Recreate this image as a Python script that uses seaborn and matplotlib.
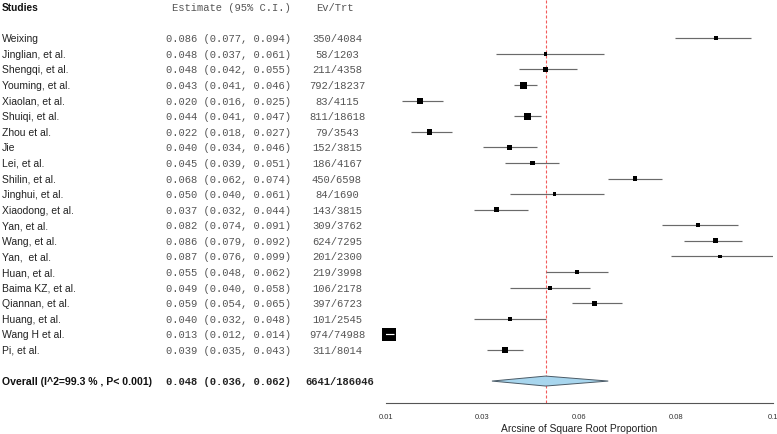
import numpy as np
import pandas as pd
import matplotlib
matplotlib.use("Agg")
import matplotlib.pyplot as plt
import matplotlib.transforms as mtransforms
import seaborn as sns

# ---------------- data ----------------
studies = ["Weixing", "Jinglian, et al.", "Shengqi, et al.", "Youming, et al.",
           "Xiaolan, et al.", "Shuiqi, et al.", "Zhou et al.", "Jie", "Lei, et al.",
           "Shilin, et al.", "Jinghui, et al.", "Xiaodong, et al.", "Yan, et al.",
           "Wang, et al.", "Yan,  et al.", "Huan, et al.", "Baima KZ, et al.",
           "Qiannan, et al.", "Huang, et al.", "Wang H et al.", "Pi, et al."]
estimate = [0.086, 0.048, 0.048, 0.043, 0.020, 0.044, 0.022, 0.040, 0.045, 0.068, 0.050,
            0.037, 0.082, 0.086, 0.087, 0.055, 0.049, 0.059, 0.040, 0.013, 0.039]
ci_lower = [0.077, 0.037, 0.042, 0.041, 0.016, 0.041, 0.018, 0.034, 0.039, 0.062, 0.040,
            0.032, 0.074, 0.079, 0.076, 0.048, 0.040, 0.054, 0.032, 0.012, 0.035]
ci_upper = [0.094, 0.061, 0.055, 0.046, 0.025, 0.047, 0.027, 0.046, 0.051, 0.074, 0.061,
            0.044, 0.091, 0.092, 0.099, 0.062, 0.058, 0.065, 0.048, 0.014, 0.043]
events = [350, 58, 211, 792, 83, 811, 79, 152, 186, 450, 84, 143, 309, 624, 201, 219,
          106, 397, 101, 974, 311]
totals = [4084, 1203, 4358, 18237, 4115, 18618, 3543, 3815, 4167, 6598, 1690, 3815,
          3762, 7295, 2300, 3998, 2178, 6723, 2545, 74988, 8014]

overall_label = "Overall (I^2=99.3 % , P< 0.001)"
overall_est = 0.048
overall_lo = 0.036
overall_hi = 0.062
overall_events = 6641
overall_total = 186046

tick_labels = ["0.01", "0.03", "0.06", "0.08", "0.1"]
x_range = (0.01225, 0.09877)
x_title = "Arcsine of Square Root Proportion"

# ---------------- layout ----------------
W, H = 777, 435
sns.set_style("white")
plt.rcParams["font.family"] = ["Liberation Sans", "DejaVu Sans"]
MONO = ["Liberation Mono", "DejaVu Sans Mono"]

fig = plt.figure(figsize=(W / 100, H / 100), dpi=100)
ax_left, ax_right, ax_top, ax_bottom = 385.7, 772.7, 0.0, 404.3
ax = fig.add_axes([ax_left / W, (H - ax_bottom) / H,
                   (ax_right - ax_left) / W, (ax_bottom - ax_top) / H])
ax.patch.set_alpha(0)

row0_px, row_step = 39.3, 15.58
n = len(studies)
overall_row = n + 1
header_row = -2
ax.set_ylim((ax_bottom - row0_px) / row_step, (ax_top - row0_px) / row_step)
ax.set_xlim(*x_range)

df = pd.DataFrame({"study": studies, "est": estimate, "lo": ci_lower, "hi": ci_upper,
                   "ev": events, "n": totals})
df["row"] = np.arange(n)
# inverse-variance weight on the proportion scale; box area ~ sqrt(weight)
df["w"] = df["n"] / (df["est"] * (1 - df["est"]))
max_side_px = 13.3
df["side_px"] = max_side_px * (df["w"] / df["w"].max()) ** 0.25
df["s"] = (df["side_px"] * 0.72) ** 2

# reference line
ax.axvline(overall_est, color="#f25b5b", lw=0.8, ls=(0, (2.7, 1.8)), zorder=0)

# CI lines
ax.hlines(df["row"], df["lo"], df["hi"], color="#6a6a6a", lw=0.85, zorder=1)

# boxes
sns.scatterplot(data=df, x="est", y="row", marker="s", s=df["s"].to_numpy(),
                color="black", linewidth=0, legend=False, ax=ax, zorder=2,
                clip_on=False)

# CI inside box drawn in white
px_per_unit = (ax_right - ax_left) / (x_range[1] - x_range[0])
inside = df[(df["hi"] - df["lo"]) * px_per_unit < df["side_px"]]
ax.hlines(inside["row"], inside["lo"], inside["hi"], color="white", lw=0.85, zorder=3)

# diamond
dh = 0.32
ax.fill([overall_lo, overall_est, overall_hi, overall_est],
        [overall_row, overall_row - dh, overall_row, overall_row + dh],
        facecolor="#a8d6ee", edgecolor="#4a5a66", lw=0.7, zorder=2)

# axis styling
ax.set_yticks([])
ax.set_ylabel("")
for sp in ["left", "right", "top"]:
    ax.spines[sp].set_visible(False)
ax.spines["bottom"].set_color("#555555")
ax.spines["bottom"].set_linewidth(0.8)
ax.set_xticks(np.linspace(x_range[0], x_range[1], len(tick_labels)))
ax.set_xticklabels(tick_labels)
ax.tick_params(axis="x", direction="out", length=3, width=0.7, color="#555555",
               labelsize=5.5, labelcolor="#333333", pad=4.2)
ax.set_xlabel(x_title, fontsize=7.4, color="#222222", labelpad=2.0)

# ---------------- text columns ----------------
tr = mtransforms.blended_transform_factory(fig.transFigure, ax.transData)
name_x, est_x, ev_x = 2 / W, 165.7 / W, 337 / W

ax.text(name_x, header_row, "Studies", transform=tr, fontsize=7.3, fontweight="bold",
        color="#111111", ha="left", va="center")
ax.text(171.7 / W, header_row, "Estimate (95% C.I.)", transform=tr, family=MONO,
        fontsize=7.6, color="#555555", ha="left", va="center")
ax.text(335 / W, header_row, "Ev/Trt", transform=tr, family=MONO, fontsize=7.6,
        color="#555555", ha="center", va="center")

for _, r in df.iterrows():
    ax.text(name_x, r["row"], r["study"], transform=tr, fontsize=7.5, color="#222222",
            ha="left", va="center")
    ax.text(est_x, r["row"], f"{r['est']:.3f} ({r['lo']:.3f}, {r['hi']:.3f})",
            transform=tr, family=MONO, fontsize=7.6, color="#555555", ha="left",
            va="center")
    ax.text(ev_x, r["row"], f"{int(r['ev'])}/{int(r['n'])}", transform=tr, family=MONO,
            fontsize=7.6, color="#555555", ha="center", va="center")

ax.text(name_x, overall_row, overall_label, transform=tr, fontsize=7.6,
        fontweight="bold", color="#111111", ha="left", va="center")
ax.text(est_x, overall_row, f"{overall_est:.3f} ({overall_lo:.3f}, {overall_hi:.3f})",
        transform=tr, family=MONO, fontsize=7.6, fontweight="bold", color="#222222",
        ha="left", va="center")
ax.text(340 / W, overall_row, f"{overall_events}/{overall_total}", transform=tr,
        family=MONO, fontsize=7.6, fontweight="bold", color="#222222", ha="center",
        va="center")

fig.savefig("out.png", dpi=100)
